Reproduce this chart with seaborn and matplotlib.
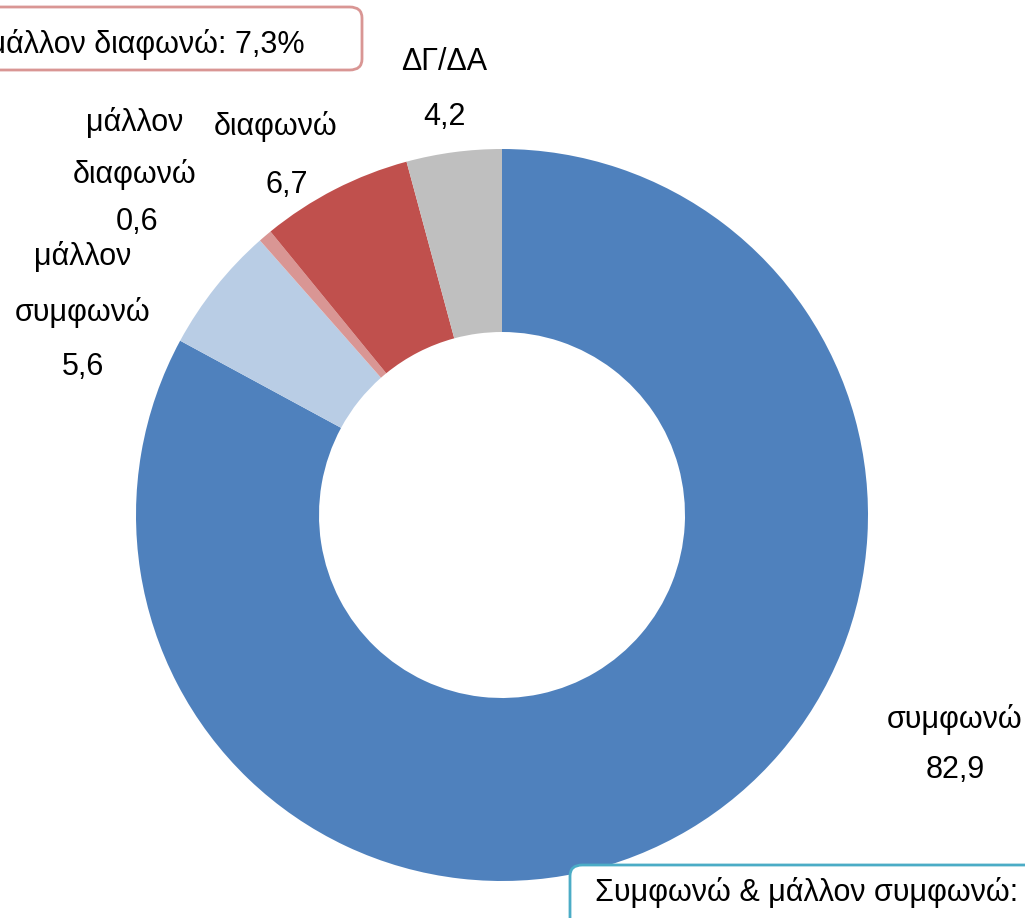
import matplotlib
matplotlib.use("Agg")
import matplotlib.pyplot as plt
import seaborn as sns
from matplotlib.patches import FancyBboxPatch

sns.set_theme(style="white")
plt.rcParams['font.family'] = ['Liberation Sans', 'DejaVu Sans']
plt.rcParams['text.color'] = 'black'

categories = ["συμφωνώ", "μάλλον\nσυμφωνώ", "μάλλον\nδιαφωνώ", "διαφωνώ", "ΔΓ/ΔΑ"]
values = [82.9, 5.6, 0.6, 6.7, 4.2]
colors = ["#4F81BD", "#B9CDE5", "#D99694", "#C0504D", "#BFBFBF"]
summary_disagree = "Διαφωνώ & μάλλον διαφωνώ: 7,3%"
summary_agree = "Συμφωνώ & μάλλον συμφωνώ: 88,5%"

W, H = 1025, 918
cx, cy, R = 502, 515, 366

fig = plt.figure(figsize=(W / 100, H / 100), dpi=100)
ax = fig.add_axes([(cx - R) / W, (H - cy - R) / H, 2 * R / W, 2 * R / H])

ax.pie(values, colors=colors, startangle=90, counterclock=False, radius=1,
       wedgeprops=dict(width=0.5, linewidth=0))
ax.set_xlim(-1, 1)
ax.set_ylim(-1, 1)
ax.set_aspect('equal')
ax.axis('off')


def px(x, y):
    return (x - cx) / R, (cy - y) / R


fs = 22
# label positions in pixels
label_pos = [
    [(955, 720)],
    [(83, 257), (83, 312)],
    [(135, 123), (135, 175)],
    [(276, 127)],
    [(444, 62)],
]
value_pos = [(955, 770), (83, 367), (137, 222), (287, 185), (444, 117)]

for cat, val, lp, vp in zip(categories, values, label_pos, value_pos):
    for line, (x, y) in zip(cat.split("\n"), lp):
        ax.text(*px(x, y), line, ha='center', va='center', fontsize=fs, clip_on=False)
    ax.text(*px(*vp), f"{val:.1f}".replace(".", ","), ha='center', va='center',
            fontsize=fs, clip_on=False)

# summary boxes (cropped at the figure edge, as in the source)
box1 = FancyBboxPatch((-400 / W, (H - 70) / H), 762 / W, 63 / H,
                      boxstyle="round,pad=0,rounding_size=0.012",
                      transform=fig.transFigure, facecolor='white',
                      edgecolor='#D99694', linewidth=2, clip_on=False)
fig.patches.append(box1)
fig.text(305 / W, (H - 45) / H, summary_disagree, ha='right', va='center', fontsize=fs)

box2 = FancyBboxPatch((570 / W, (H - 1000) / H), 600 / W, 135 / H,
                      boxstyle="round,pad=0,rounding_size=0.012",
                      transform=fig.transFigure, facecolor='white',
                      edgecolor='#4BACC6', linewidth=2, clip_on=False)
fig.patches.append(box2)
fig.text(595 / W, (H - 893) / H, summary_agree, ha='left', va='center', fontsize=fs)

fig.savefig("out.png", dpi=100)
